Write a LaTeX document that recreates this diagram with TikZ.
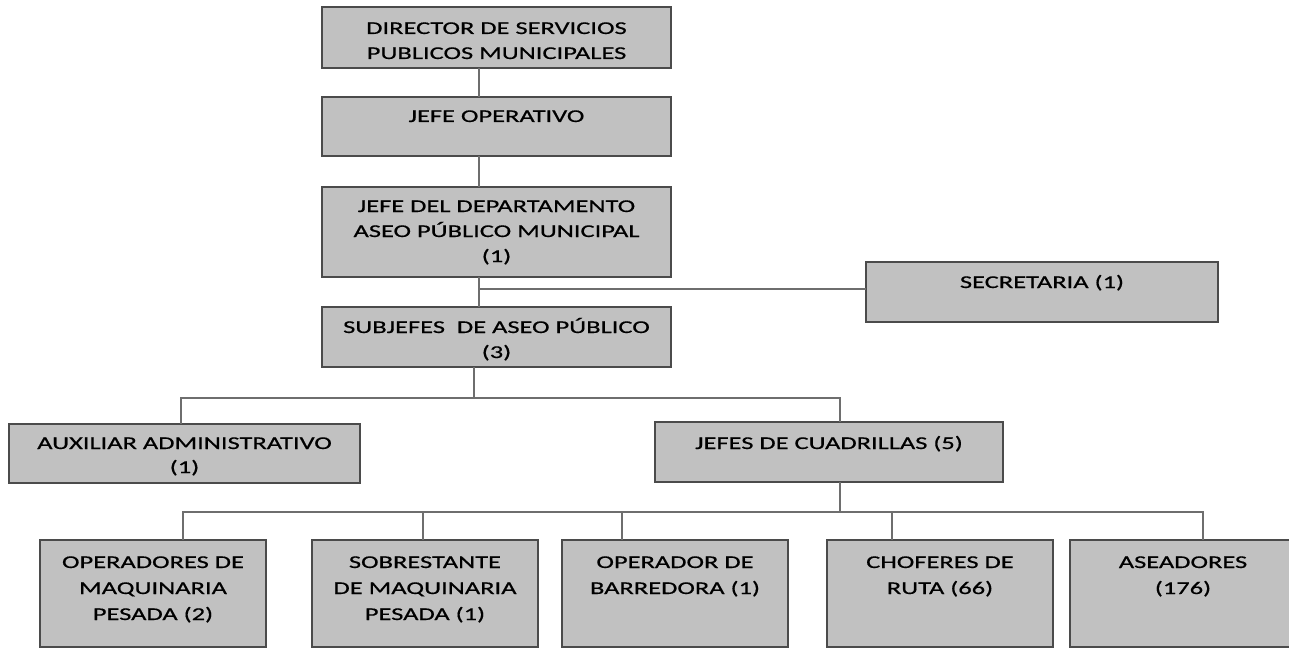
\documentclass[tikz,border=0pt]{standalone}
\usepackage{fontspec}
\setmainfont{Carlito}[FakeStretch=1.47,FakeBold=0.6]
\definecolor{boxfill}{RGB}{193,193,193}
\definecolor{boxdraw}{RGB}{75,75,75}
\definecolor{linecol}{RGB}{110,110,110}
\newcommand{\bx}[5]{\parbox[c][#2][t]{#1}{\centering\fontsize{18}{#5}\selectfont\rule{0pt}{#4}#3\par}}
\tikzset{
  box/.style={draw=boxdraw, fill=boxfill, line width=1.4pt, inner sep=0pt, outer sep=0pt, anchor=north west, text=black},
  conn/.style={draw=linecol, line width=1.3pt}
}
\begin{document}
\begin{tikzpicture}[x=1pt,y=-1pt]
\clip (0,0) rectangle (1289,655);
\fill[white] (0,0) rectangle (1289,655);
% boxes
\node[box] (dir)  at (322,7)   {\bx{349pt}{61pt}{DIRECTOR DE SERVICIOS\\PUBLICOS MUNICIPALES}{27pt}{25pt}};
\node[box] (jop)  at (322,97)  {\bx{349pt}{59pt}{JEFE OPERATIVO}{25pt}{25pt}};
\node[box] (jdep) at (322,187) {\bx{349pt}{90pt}{JEFE DEL DEPARTAMENTO\\ASEO PÚBLICO MUNICIPAL\\(1)}{25pt}{25pt}};
\node[box] (sec)  at (866,262) {\bx{352pt}{60pt}{SECRETARIA (1)}{26pt}{25pt}};
\node[box] (sub)  at (322,307) {\bx{349pt}{60pt}{SUBJEFES\ \ DE ASEO PÚBLICO\\(3)}{26pt}{25pt}};
\node[box] (aux)  at (9,424)   {\bx{351pt}{59pt}{AUXILIAR ADMINISTRATIVO\\(1)}{25pt}{24pt}};
\node[box] (jc)   at (655,422) {\bx{348pt}{60pt}{JEFES DE CUADRILLAS (5)}{27pt}{25pt}};
\node[box] (op)   at (40,540)  {\bx{226pt}{107pt}{OPERADORES DE\\MAQUINARIA\\PESADA (2)}{28pt}{26pt}};
\node[box] (sob)  at (312,540) {\bx{226pt}{107pt}{SOBRESTANTE\\DE MAQUINARIA\\PESADA (1)}{28pt}{26pt}};
\node[box] (bar)  at (562,540) {\bx{226pt}{107pt}{OPERADOR DE\\BARREDORA (1)}{28pt}{26pt}};
\node[box] (cho)  at (827,540) {\bx{226pt}{107pt}{CHOFERES DE\\RUTA (66)}{28pt}{26pt}};
\node[box] (ase)  at (1070,540){\bx{226pt}{107pt}{ASEADORES\\(176)}{28pt}{26pt}};
% guide coordinates
\coordinate (vA) at (479,0);
\coordinate (vB) at (474,0);
\coordinate (sb) at (479,289);
\coordinate (bus1) at (0,398);
\coordinate (bus2) at (0,512);
\coordinate (xAux) at (181,0);
\coordinate (xJ) at (840,0);
\coordinate (k1) at (183,0);
\coordinate (k2) at (423,0);
\coordinate (k3) at (622,0);
\coordinate (k4) at (892,0);
\coordinate (k5) at (1203,0);
% connectors
\draw[conn] (dir.south -| vA) -- (jop.north -| vA);
\draw[conn] (jop.south -| vA) -- (jdep.north -| vA);
\draw[conn] (jdep.south -| vA) -- (sub.north -| vA);
\draw[conn] (sb) -- (sb -| sec.west);
\draw[conn] (sub.south -| vB) -- (vB |- bus1);
\draw[conn] (aux.north -| xAux) -- (xAux |- bus1) -- (xJ |- bus1) -- (jc.north -| xJ);
\draw[conn] (jc.south -| xJ) -- (xJ |- bus2);
\draw[conn] (op.north -| k1) -- (k1 |- bus2) -- (k5 |- bus2) -- (ase.north -| k5);
\draw[conn] (k2 |- bus2) -- (sob.north -| k2);
\draw[conn] (k3 |- bus2) -- (bar.north -| k3);
\draw[conn] (k4 |- bus2) -- (cho.north -| k4);
\end{tikzpicture}
\end{document}
